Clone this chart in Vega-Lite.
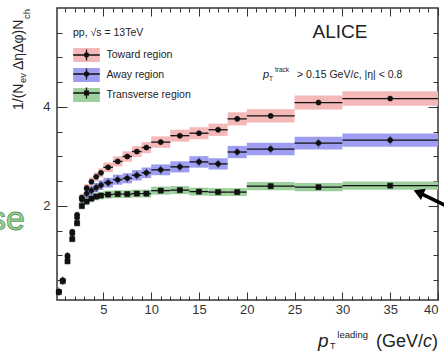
{
"$schema": "https://vega.github.io/schema/vega-lite/v6.json",
"width": 381, "height": 292,
"autosize": {"type": "none"},
"padding": {"left": 57, "top": 8, "right": 6, "bottom": 51},
"config": {
  "font": "Liberation Sans",
  "view": {"stroke": "#333", "strokeWidth": 1.5},
  "axis": {"domain": false, "grid": false, "tickColor": "#333", "tickWidth": 1, "labelColor": "#333", "labelFontSize": 13, "labelFont": "Liberation Sans", "title": null}
},
"data": {"values": [
{"r":"Toward region","x":0.35,"xl":0.15,"xh":0.5,"v":0.27,"lo":0.261,"hi":0.279},
{"r":"Toward region","x":0.75,"xl":0.5,"xh":1,"v":0.50,"lo":0.483,"hi":0.518},
{"r":"Toward region","x":1.25,"xl":1,"xh":1.5,"v":1.00,"lo":0.965,"hi":1.035},
{"r":"Toward region","x":1.75,"xl":1.5,"xh":2,"v":1.48,"lo":1.428,"hi":1.532},
{"r":"Toward region","x":2.25,"xl":2,"xh":2.5,"v":1.82,"lo":1.756,"hi":1.884},
{"r":"Toward region","x":2.75,"xl":2.5,"xh":3,"v":2.17,"lo":2.094,"hi":2.246},
{"r":"Toward region","x":3.25,"xl":3,"xh":3.5,"v":2.36,"lo":2.277,"hi":2.443},
{"r":"Toward region","x":3.75,"xl":3.5,"xh":4,"v":2.49,"lo":2.403,"hi":2.577},
{"r":"Toward region","x":4.25,"xl":4,"xh":4.5,"v":2.59,"lo":2.499,"hi":2.681},
{"r":"Toward region","x":4.75,"xl":4.5,"xh":5,"v":2.67,"lo":2.577,"hi":2.763},
{"r":"Toward region","x":5.5,"xl":5,"xh":6,"v":2.78,"lo":2.683,"hi":2.877},
{"r":"Toward region","x":6.5,"xl":6,"xh":7,"v":2.90,"lo":2.799,"hi":3.002},
{"r":"Toward region","x":7.5,"xl":7,"xh":8,"v":3.00,"lo":2.895,"hi":3.105},
{"r":"Toward region","x":8.5,"xl":8,"xh":9,"v":3.10,"lo":2.992,"hi":3.209},
{"r":"Toward region","x":9.5,"xl":9,"xh":10,"v":3.18,"lo":3.069,"hi":3.291},
{"r":"Toward region","x":11,"xl":10,"xh":12,"v":3.29,"lo":3.175,"hi":3.405},
{"r":"Toward region","x":13,"xl":12,"xh":14,"v":3.42,"lo":3.300,"hi":3.540},
{"r":"Toward region","x":15,"xl":14,"xh":16,"v":3.47,"lo":3.349,"hi":3.591},
{"r":"Toward region","x":17,"xl":16,"xh":18,"v":3.54,"lo":3.416,"hi":3.664},
{"r":"Toward region","x":19,"xl":18,"xh":20,"v":3.76,"lo":3.628,"hi":3.892},
{"r":"Toward region","x":22.5,"xl":20,"xh":25,"v":3.82,"lo":3.686,"hi":3.954},
{"r":"Toward region","x":27.5,"xl":25,"xh":30,"v":4.09,"lo":3.947,"hi":4.233},
{"r":"Toward region","x":35,"xl":30,"xh":40,"v":4.17,"lo":4.024,"hi":4.316},
{"r":"Away region","x":0.35,"xl":0.15,"xh":0.5,"v":0.27,"lo":0.259,"hi":0.281},
{"r":"Away region","x":0.75,"xl":0.5,"xh":1,"v":0.49,"lo":0.470,"hi":0.510},
{"r":"Away region","x":1.25,"xl":1,"xh":1.5,"v":0.97,"lo":0.931,"hi":1.009},
{"r":"Away region","x":1.75,"xl":1.5,"xh":2,"v":1.44,"lo":1.382,"hi":1.498},
{"r":"Away region","x":2.25,"xl":2,"xh":2.5,"v":1.76,"lo":1.690,"hi":1.830},
{"r":"Away region","x":2.75,"xl":2.5,"xh":3,"v":2.13,"lo":2.045,"hi":2.215},
{"r":"Away region","x":3.25,"xl":3,"xh":3.5,"v":2.25,"lo":2.160,"hi":2.340},
{"r":"Away region","x":3.75,"xl":3.5,"xh":4,"v":2.31,"lo":2.218,"hi":2.402},
{"r":"Away region","x":4.25,"xl":4,"xh":4.5,"v":2.37,"lo":2.275,"hi":2.465},
{"r":"Away region","x":4.75,"xl":4.5,"xh":5,"v":2.42,"lo":2.323,"hi":2.517},
{"r":"Away region","x":5.5,"xl":5,"xh":6,"v":2.47,"lo":2.371,"hi":2.569},
{"r":"Away region","x":6.5,"xl":6,"xh":7,"v":2.53,"lo":2.429,"hi":2.631},
{"r":"Away region","x":7.5,"xl":7,"xh":8,"v":2.56,"lo":2.458,"hi":2.662},
{"r":"Away region","x":8.5,"xl":8,"xh":9,"v":2.62,"lo":2.515,"hi":2.725},
{"r":"Away region","x":9.5,"xl":9,"xh":10,"v":2.67,"lo":2.563,"hi":2.777},
{"r":"Away region","x":11,"xl":10,"xh":12,"v":2.73,"lo":2.621,"hi":2.839},
{"r":"Away region","x":13,"xl":12,"xh":14,"v":2.79,"lo":2.678,"hi":2.902},
{"r":"Away region","x":15,"xl":14,"xh":16,"v":2.89,"lo":2.774,"hi":3.006},
{"r":"Away region","x":17,"xl":16,"xh":18,"v":2.85,"lo":2.736,"hi":2.964},
{"r":"Away region","x":19,"xl":18,"xh":20,"v":3.09,"lo":2.966,"hi":3.214},
{"r":"Away region","x":22.5,"xl":20,"xh":25,"v":3.15,"lo":3.024,"hi":3.276},
{"r":"Away region","x":27.5,"xl":25,"xh":30,"v":3.27,"lo":3.139,"hi":3.401},
{"r":"Away region","x":35,"xl":30,"xh":40,"v":3.33,"lo":3.197,"hi":3.463},
{"r":"Transverse region","x":0.35,"xl":0.15,"xh":0.5,"v":0.26,"lo":0.251,"hi":0.269},
{"r":"Transverse region","x":0.75,"xl":0.5,"xh":1,"v":0.48,"lo":0.463,"hi":0.497},
{"r":"Transverse region","x":1.25,"xl":1,"xh":1.5,"v":0.88,"lo":0.849,"hi":0.911},
{"r":"Transverse region","x":1.75,"xl":1.5,"xh":2,"v":1.33,"lo":1.283,"hi":1.377},
{"r":"Transverse region","x":2.25,"xl":2,"xh":2.5,"v":1.65,"lo":1.592,"hi":1.708},
{"r":"Transverse region","x":2.75,"xl":2.5,"xh":3,"v":2.00,"lo":1.930,"hi":2.070},
{"r":"Transverse region","x":3.25,"xl":3,"xh":3.5,"v":2.09,"lo":2.017,"hi":2.163},
{"r":"Transverse region","x":3.75,"xl":3.5,"xh":4,"v":2.15,"lo":2.075,"hi":2.225},
{"r":"Transverse region","x":4.25,"xl":4,"xh":4.5,"v":2.19,"lo":2.113,"hi":2.267},
{"r":"Transverse region","x":4.75,"xl":4.5,"xh":5,"v":2.21,"lo":2.133,"hi":2.287},
{"r":"Transverse region","x":5.5,"xl":5,"xh":6,"v":2.23,"lo":2.152,"hi":2.308},
{"r":"Transverse region","x":6.5,"xl":6,"xh":7,"v":2.24,"lo":2.162,"hi":2.318},
{"r":"Transverse region","x":7.5,"xl":7,"xh":8,"v":2.24,"lo":2.162,"hi":2.318},
{"r":"Transverse region","x":8.5,"xl":8,"xh":9,"v":2.25,"lo":2.171,"hi":2.329},
{"r":"Transverse region","x":9.5,"xl":9,"xh":10,"v":2.25,"lo":2.171,"hi":2.329},
{"r":"Transverse region","x":11,"xl":10,"xh":12,"v":2.31,"lo":2.229,"hi":2.391},
{"r":"Transverse region","x":13,"xl":12,"xh":14,"v":2.32,"lo":2.239,"hi":2.401},
{"r":"Transverse region","x":15,"xl":14,"xh":16,"v":2.29,"lo":2.210,"hi":2.370},
{"r":"Transverse region","x":17,"xl":16,"xh":18,"v":2.28,"lo":2.200,"hi":2.360},
{"r":"Transverse region","x":19,"xl":18,"xh":20,"v":2.28,"lo":2.200,"hi":2.360},
{"r":"Transverse region","x":22.5,"xl":20,"xh":25,"v":2.40,"lo":2.316,"hi":2.484},
{"r":"Transverse region","x":27.5,"xl":25,"xh":30,"v":2.38,"lo":2.297,"hi":2.463},
{"r":"Transverse region","x":35,"xl":30,"xh":40,"v":2.41,"lo":2.326,"hi":2.494}
]},
"resolve": {"axis": {"x": "independent", "y": "independent"}, "scale": {"shape": "independent"}},
"layer": [
{
  "mark": {"type": "rect"},
  "encoding": {
    "x": {"field": "xl", "type": "quantitative", "scale": {"domain": [0.15, 40], "nice": false, "zero": false},
          "axis": {"orient": "bottom", "values": [5,10,15,20,25,30,35,40], "tickSize": -8, "labelPadding": 11}},
    "x2": {"field": "xh"},
    "y": {"field": "lo", "type": "quantitative", "scale": {"domain": [0.1, 6], "nice": false, "zero": false},
          "axis": {"orient": "left", "values": [2,4], "tickSize": -10, "labelPadding": 17}},
    "y2": {"field": "hi"},
    "fill": {"field": "r", "type": "nominal",
      "scale": {"domain": ["Toward region", "Away region", "Transverse region"], "range": ["#f5b8b8", "#9d9df2", "#9dd09d"]},
      "legend": {"orient": "none", "legendX": 16, "legendY": 40, "padding": 0, "title": null,
        "labelFontSize": 10.5, "labelColor": "#222", "labelOffset": 13,
        "symbolType": "M-1.9,-1H1.9V1H-1.9Z", "symbolSize": 196, "symbolOffset": 6.5, "symbolStrokeWidth": 0, "symbolOpacity": 1,
        "rowPadding": 6}}
  }
},
{
  "mark": {"type": "rule", "color": "#111", "strokeWidth": 1.3},
  "encoding": {
    "x": {"field": "xl", "type": "quantitative", "axis": {"orient": "bottom", "values": [1,2,3,4,6,7,8,9,11,12,13,14,16,17,18,19,21,22,23,24,26,27,28,29,31,32,33,34,36,37,38,39], "tickSize": -4, "labels": false}},
    "x2": {"field": "xh"},
    "y": {"field": "v", "type": "quantitative", "axis": {"orient": "left", "values": [0.5,1,1.5,2.5,3,3.5,4.5,5,5.5], "tickSize": -5, "labels": false}}
  }
},
{
  "mark": {"type": "point", "filled": true, "color": "#111", "stroke": "#111", "strokeWidth": 0.6, "size": 26, "opacity": 1},
  "encoding": {
    "x": {"field": "x", "type": "quantitative", "axis": {"orient": "top", "values": [5,10,15,20,25,30,35,40], "tickSize": -8, "labels": false}},
    "y": {"field": "v", "type": "quantitative", "axis": {"orient": "right", "values": [2,4], "tickSize": -10, "labels": false}},
    "shape": {"field": "r", "type": "nominal",
      "scale": {"domain": ["Toward region", "Away region", "Transverse region"], "range": ["circle", "M0,-1.7V1.7M1,0A1,1 0 1,1 -1,0A1,1 0 1,1 1,0Z", "square"]},
      "legend": null}
  }
},
{
  "transform": [{"filter": "false"}],
  "mark": {"type": "point", "filled": true, "color": "#111", "opacity": 1, "strokeWidth": 0},
  "encoding": {
    "x": {"field": "x", "type": "quantitative", "axis": {"orient": "top", "values": [1,2,3,4,6,7,8,9,11,12,13,14,16,17,18,19,21,22,23,24,26,27,28,29,31,32,33,34,36,37,38,39], "tickSize": -4, "labels": false}},
    "y": {"field": "v", "type": "quantitative", "axis": {"orient": "right", "values": [0.5,1,1.5,2.5,3,3.5,4.5,5,5.5], "tickSize": -5, "labels": false}},
    "shape": {"field": "r", "type": "nominal",
      "scale": {"domain": ["Toward region", "Away region", "Transverse region"],
        "range": ["M-1.9,-0.09H1.9V0.09H-1.9ZM-0.09,-0.8H0.09V0.8H-0.09ZM0.38,0A0.38,0.38 0 1,1 -0.38,0A0.38,0.38 0 1,1 0.38,0Z", "M-1.9,-0.09H1.9V0.09H-1.9ZM-0.09,-0.8H0.09V0.8H-0.09ZM0.38,0A0.38,0.38 0 1,1 -0.38,0A0.38,0.38 0 1,1 0.38,0Z", "M-1.9,-0.09H1.9V0.09H-1.9ZM-0.09,-0.8H0.09V0.8H-0.09ZM-0.36,-0.36H0.36V0.36H-0.36Z"]},
      "legend": {"orient": "none", "legendX": 16, "legendY": 40, "padding": 0, "title": null,
        "labelFontSize": 10.5, "labelExpr": "''", "labelOffset": 13,
        "symbolSize": 196, "symbolOffset": 6.5, "symbolFillColor": "#111", "symbolStrokeWidth": 0, "symbolOpacity": 1,
        "rowPadding": 6}}
  }
},
{"data": {"values": [{}]}, "mark": {"type": "text", "text": "pp, √s = 13TeV", "fontSize": 10.5, "align": "left", "baseline": "middle", "color": "#222"},
 "encoding": {"x": {"datum": 1.82, "axis": null}, "y": {"datum": 5.495, "axis": null}}},
{"data": {"values": [{}]}, "mark": {"type": "text", "text": "ALICE", "fontSize": 19, "align": "center", "baseline": "middle", "color": "#222"},
 "encoding": {"x": {"datum": 29.75, "axis": null}, "y": {"datum": 5.515, "axis": null}}},
{"data": {"values": [{}]}, "mark": {"type": "text", "text": "p", "fontSize": 11, "fontStyle": "italic", "align": "left", "baseline": "alphabetic", "color": "#222"},
 "encoding": {"x": {"datum": 21.7, "axis": null}, "y": {"datum": 4.586, "axis": null}}},
{"data": {"values": [{}]}, "mark": {"type": "text", "text": "T", "fontSize": 6.5, "align": "left", "baseline": "alphabetic", "dx": 6, "dy": 3, "color": "#222"},
 "encoding": {"x": {"datum": 21.7, "axis": null}, "y": {"datum": 4.586, "axis": null}}},
{"data": {"values": [{}]}, "mark": {"type": "text", "text": "track", "fontSize": 6.5, "align": "left", "baseline": "alphabetic", "dx": 12, "dy": -6, "color": "#222"},
 "encoding": {"x": {"datum": 21.7, "axis": null}, "y": {"datum": 4.586, "axis": null}}},
{"data": {"values": [{}]}, "mark": {"type": "text", "text": "> 0.15 GeV/", "fontSize": 10.5, "align": "left", "baseline": "alphabetic", "dx": 34, "color": "#222"},
 "encoding": {"x": {"datum": 21.7, "axis": null}, "y": {"datum": 4.586, "axis": null}}},
{"data": {"values": [{}]}, "mark": {"type": "text", "text": "c", "fontSize": 10.5, "fontStyle": "italic", "align": "left", "baseline": "alphabetic", "dx": 90.4, "color": "#222"},
 "encoding": {"x": {"datum": 21.7, "axis": null}, "y": {"datum": 4.586, "axis": null}}},
{"data": {"values": [{}]}, "mark": {"type": "text", "text": ", |η| < 0.8", "fontSize": 10.5, "align": "left", "baseline": "alphabetic", "dx": 95.6, "color": "#222"},
 "encoding": {"x": {"datum": 21.7, "axis": null}, "y": {"datum": 4.586, "axis": null}}},
{"data": {"values": [{}]}, "mark": {"type": "text", "text": ")", "fontSize": 18, "align": "right", "baseline": "alphabetic", "color": "#222"},
 "encoding": {"x": {"datum": 40, "axis": null}, "y": {"datum": -0.85, "axis": null}}},
{"data": {"values": [{}]}, "mark": {"type": "text", "text": "c", "fontSize": 18, "fontStyle": "italic", "align": "right", "baseline": "alphabetic", "dx": -6, "color": "#222"},
 "encoding": {"x": {"datum": 40, "axis": null}, "y": {"datum": -0.85, "axis": null}}},
{"data": {"values": [{}]}, "mark": {"type": "text", "text": "(GeV/", "fontSize": 18, "align": "right", "baseline": "alphabetic", "dx": -15, "color": "#222"},
 "encoding": {"x": {"datum": 40, "axis": null}, "y": {"datum": -0.85, "axis": null}}},
{"data": {"values": [{}]}, "mark": {"type": "text", "text": "leading", "fontSize": 9.5, "align": "right", "baseline": "alphabetic", "dx": -70, "dy": -9, "color": "#222"},
 "encoding": {"x": {"datum": 40, "axis": null}, "y": {"datum": -0.85, "axis": null}}},
{"data": {"values": [{}]}, "mark": {"type": "text", "text": "T", "fontSize": 9, "align": "left", "baseline": "alphabetic", "dx": -108, "dy": 2, "color": "#222"},
 "encoding": {"x": {"datum": 40, "axis": null}, "y": {"datum": -0.85, "axis": null}}},
{"data": {"values": [{}]}, "mark": {"type": "text", "text": "p", "fontSize": 19, "fontStyle": "italic", "align": "left", "baseline": "alphabetic", "dx": -120, "color": "#222"},
 "encoding": {"x": {"datum": 40, "axis": null}, "y": {"datum": -0.85, "axis": null}}},
{"data": {"values": [{}]}, "mark": {"type": "text", "text": "1/(N", "fontSize": 14, "angle": 270, "align": "left", "baseline": "alphabetic", "color": "#222"},
 "encoding": {"x": {"datum": -3.406, "axis": null}, "y": {"datum": 3.939, "axis": null}}},
{"data": {"values": [{}]}, "mark": {"type": "text", "text": "ev", "fontSize": 9.5, "angle": 270, "align": "left", "baseline": "alphabetic", "dx": 27, "dy": 3, "color": "#222"},
 "encoding": {"x": {"datum": -3.406, "axis": null}, "y": {"datum": 3.939, "axis": null}}},
{"data": {"values": [{}]}, "mark": {"type": "text", "text": "ΔηΔφ)N", "fontSize": 14, "angle": 270, "align": "left", "baseline": "alphabetic", "dx": 40, "color": "#222"},
 "encoding": {"x": {"datum": -3.406, "axis": null}, "y": {"datum": 3.939, "axis": null}}},
{"data": {"values": [{}]}, "mark": {"type": "text", "text": "ch", "fontSize": 9.5, "angle": 270, "align": "left", "baseline": "alphabetic", "dx": 91, "dy": 7, "color": "#222"},
 "encoding": {"x": {"datum": -3.406, "axis": null}, "y": {"datum": 3.939, "axis": null}}},
{"data": {"values": [{}]}, "mark": {"type": "text", "text": "Transverse", "fontSize": 34, "align": "right", "baseline": "alphabetic", "fill": "#a3d6a3", "stroke": "#5e9e5e", "strokeWidth": 1},
 "encoding": {"x": {"datum": -3.197, "axis": null}, "y": {"datum": 1.514, "axis": null}}},
{"data": {"values": [{}]}, "mark": {"type": "rule", "color": "#000", "strokeWidth": 3.5},
 "encoding": {"x": {"datum": 37.96, "axis": null}, "y": {"datum": 2.274, "axis": null}, "x2": {"datum": 40.9}, "y2": {"datum": 2.0}}},
{"data": {"values": [{}]}, "mark": {"type": "point", "shape": "triangle-left", "filled": true, "color": "#000", "size": 150, "angle": 23, "opacity": 1},
 "encoding": {"x": {"datum": 37.96, "axis": null}, "y": {"datum": 2.274, "axis": null}}}
]
}
